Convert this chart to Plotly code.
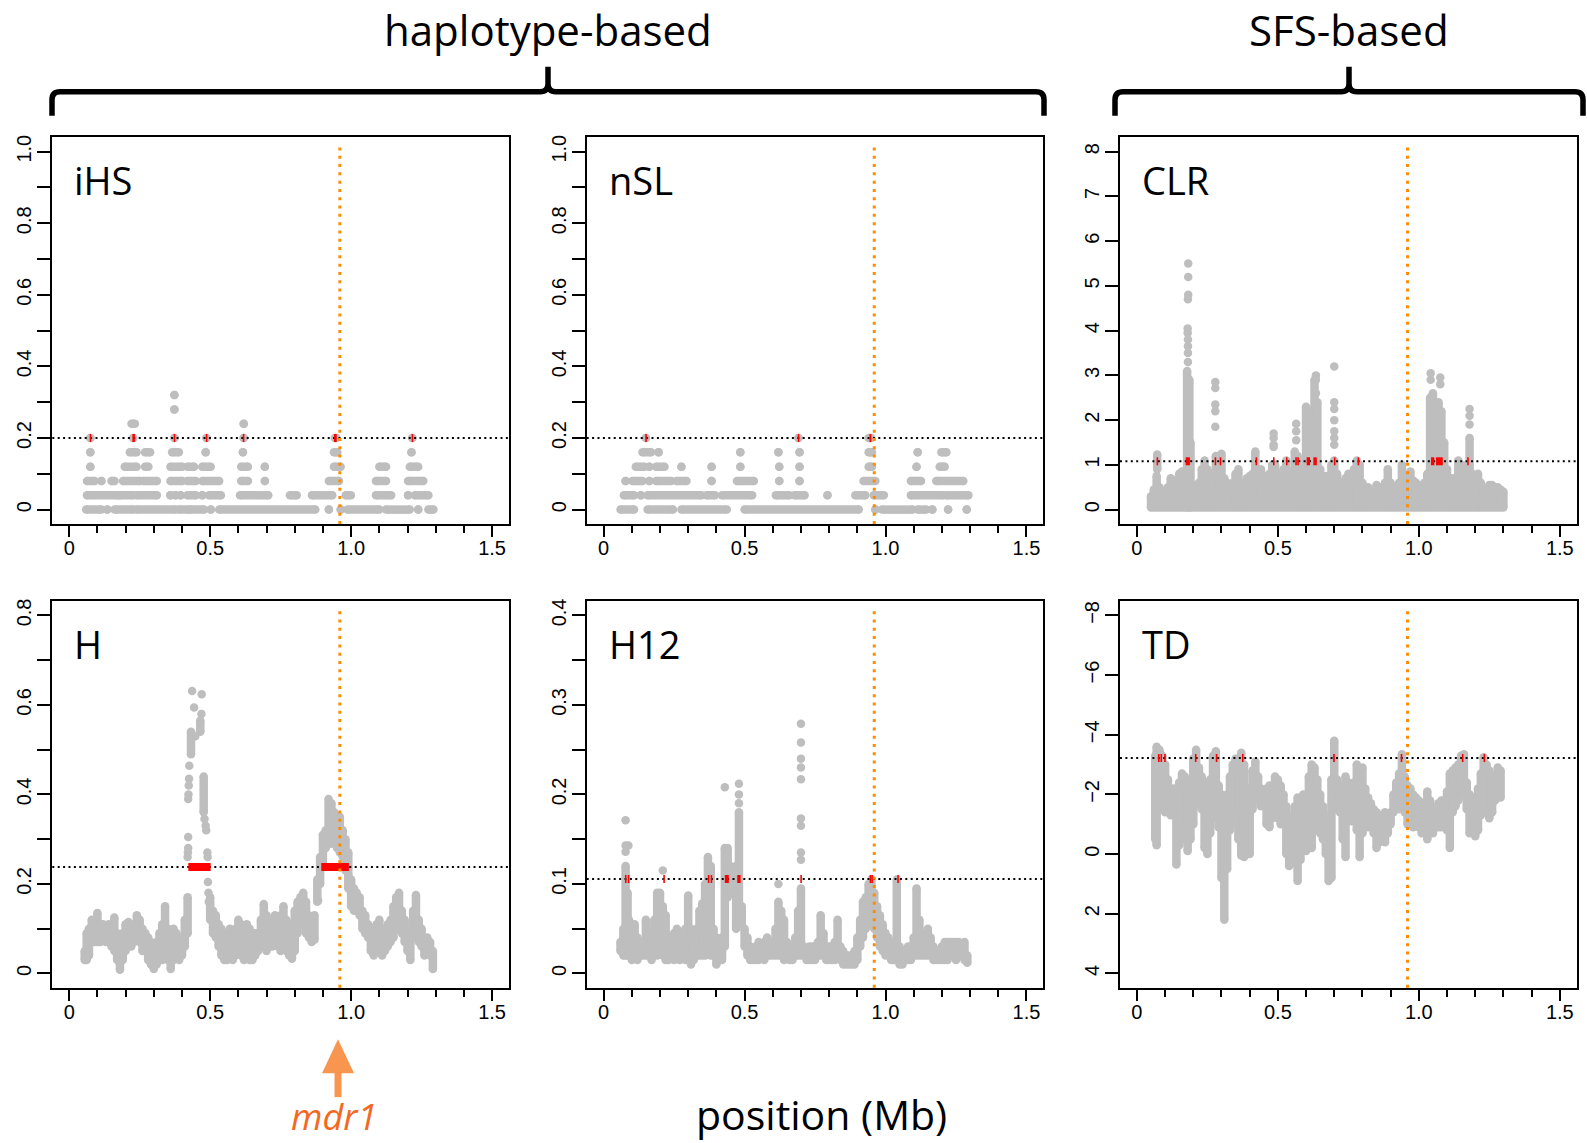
import plotly.graph_objects as go

# ---------------- data ----------------
MDR1_POS = 0.96

# iHS / nSL: discrete score levels -> runs of densely packed windows (x_start, x_end)
IHS_RUNS = {
    0.00: [(0.06, 0.114), (0.135, 0.135), (0.161, 0.227), (0.239, 0.377), (0.389, 0.425), (0.431, 0.478),
           (0.502, 0.502), (0.532, 0.873), (0.921, 0.921), (0.963, 0.963), (0.987, 1.100), (1.124, 1.208),
           (1.238, 1.238), (1.274, 1.292)],
    0.04: [(0.063, 0.173), (0.179, 0.227), (0.239, 0.311), (0.359, 0.359), (0.377, 0.377), (0.395, 0.395),
           (0.419, 0.449), (0.472, 0.472), (0.496, 0.538), (0.606, 0.706), (0.783, 0.807), (0.861, 0.933),
           (0.981, 0.999), (1.088, 1.142), (1.202, 1.202), (1.226, 1.274)],
    0.08: [(0.063, 0.09), (0.114, 0.114), (0.15, 0.161), (0.191, 0.251), (0.263, 0.311), (0.359, 0.401),
           (0.419, 0.449), (0.472, 0.532), (0.61, 0.634), (0.694, 0.694), (0.921, 0.957), (1.088, 1.124),
           (1.202, 1.256)],
    0.12: [(0.075, 0.075), (0.197, 0.239), (0.269, 0.281), (0.359, 0.401), (0.419, 0.443), (0.472, 0.502),
           (0.61, 0.634), (0.694, 0.694), (0.939, 0.963), (1.10, 1.124), (1.208, 1.238)],
    0.16: [(0.075, 0.075), (0.215, 0.239), (0.269, 0.287), (0.365, 0.389), (0.484, 0.484), (0.616, 0.616),
           (0.939, 0.951), (1.214, 1.214)],
    0.20: [(0.075, 0.075), (0.227, 0.227), (0.373, 0.373), (0.487, 0.487), (0.619, 0.619), (0.942, 0.948),
           (1.217, 1.217)],
    0.24: [(0.221, 0.233), (0.619, 0.619)],
    0.28: [(0.373, 0.373)],
    0.32: [(0.373, 0.373)],
}
IHS_THRESHOLD = 0.2
IHS_OUTLIERS = [(0.075, 0.076), (0.224, 0.233), (0.373, 0.374), (0.487, 0.488), (0.617, 0.62),
                (0.939, 0.949), (1.217, 1.218)]

NSL_RUNS = {
    0.00: [(0.06, 0.108), (0.156, 0.246), (0.276, 0.437), (0.50, 0.905), (0.964, 0.964), (0.988, 1.096),
           (1.114, 1.144), (1.166, 1.166), (1.222, 1.222), (1.288, 1.288)],
    0.04: [(0.072, 0.108), (0.132, 0.132), (0.156, 0.347), (0.365, 0.395), (0.42, 0.527), (0.611, 0.659),
           (0.677, 0.713), (0.794, 0.794), (0.893, 0.928), (0.958, 0.994), (1.09, 1.204), (1.216, 1.294)],
    0.08: [(0.078, 0.078), (0.102, 0.138), (0.162, 0.162), (0.186, 0.24), (0.258, 0.294), (0.383, 0.383),
           (0.473, 0.533), (0.623, 0.623), (0.695, 0.695), (0.922, 0.964), (1.09, 1.126), (1.18, 1.276)],
    0.12: [(0.114, 0.144), (0.162, 0.162), (0.186, 0.216), (0.276, 0.276), (0.383, 0.383), (0.485, 0.485),
           (0.623, 0.623), (0.695, 0.695), (0.94, 0.952), (1.11, 1.11), (1.192, 1.21)],
    0.16: [(0.138, 0.168), (0.195, 0.195), (0.485, 0.485), (0.62, 0.62), (0.695, 0.695), (0.94, 0.952),
           (1.114, 1.114), (1.198, 1.216)],
    0.20: [(0.15, 0.15), (0.691, 0.691), (0.94, 0.95)],
}
NSL_THRESHOLD = 0.2
NSL_OUTLIERS = [(0.15, 0.151), (0.691, 0.692), (0.943, 0.95)]

# CLR: windows as (position, lowest value, highest value) plus isolated high points
CLR_COLS = [
    (0.05, 0.05, 0.3), (0.06, 0.05, 0.45), (0.07, 0.05, 0.75), (0.072, 0.9, 1.23), (0.08, 0.05, 0.5),
    (0.09, 0.05, 0.4), (0.10, 0.05, 0.35), (0.11, 0.05, 0.5), (0.12, 0.05, 0.7), (0.13, 0.05, 0.65),
    (0.14, 0.05, 0.55), (0.15, 0.05, 0.8), (0.16, 0.05, 0.85), (0.17, 0.05, 0.8), (0.178, 0.05, 3.1),
    (0.186, 0.05, 2.9), (0.19, 0.05, 1.5), (0.20, 0.05, 0.5), (0.21, 0.05, 0.55), (0.22, 0.05, 0.6),
    (0.23, 0.05, 0.9), (0.24, 0.05, 1.1), (0.25, 0.05, 0.9), (0.26, 0.05, 0.7), (0.27, 0.05, 0.8),
    (0.28, 0.05, 1.2), (0.29, 0.05, 1.0), (0.30, 0.05, 1.25), (0.31, 0.05, 0.7), (0.32, 0.05, 0.6),
    (0.33, 0.05, 0.5), (0.34, 0.05, 0.6), (0.35, 0.05, 0.8), (0.36, 0.05, 0.9), (0.37, 0.05, 0.6),
    (0.38, 0.05, 0.5), (0.39, 0.05, 0.7), (0.40, 0.05, 0.75), (0.41, 0.05, 0.8), (0.42, 0.05, 1.3),
    (0.43, 0.05, 0.7), (0.44, 0.05, 0.9), (0.45, 0.05, 0.65), (0.46, 0.05, 0.75), (0.47, 0.05, 0.8),
    (0.48, 0.05, 1.0), (0.49, 0.05, 1.0), (0.50, 0.05, 0.7), (0.51, 0.05, 0.8), (0.52, 0.05, 0.9),
    (0.53, 0.05, 1.1), (0.54, 0.05, 0.85), (0.55, 0.05, 0.7), (0.56, 0.05, 1.3), (0.57, 0.05, 1.2),
    (0.58, 0.05, 0.8), (0.59, 0.05, 0.9), (0.60, 0.05, 2.3), (0.61, 0.05, 2.2), (0.62, 0.05, 1.7),
    (0.63, 0.05, 2.9), (0.64, 0.05, 2.4), (0.65, 0.05, 0.9), (0.66, 0.05, 0.7), (0.67, 0.05, 0.75),
    (0.68, 0.05, 0.7), (0.69, 0.05, 1.0), (0.70, 0.05, 1.1), (0.71, 0.05, 0.8), (0.72, 0.05, 0.6),
    (0.73, 0.05, 0.55), (0.74, 0.05, 0.7), (0.75, 0.05, 0.8), (0.76, 0.05, 0.6), (0.77, 0.05, 0.9),
    (0.78, 0.05, 1.1), (0.79, 0.05, 1.0), (0.80, 0.05, 0.6), (0.81, 0.05, 0.45), (0.82, 0.05, 0.5),
    (0.83, 0.05, 0.4), (0.84, 0.05, 0.35), (0.85, 0.05, 0.55), (0.86, 0.05, 0.45), (0.87, 0.05, 0.5),
    (0.88, 0.05, 0.6), (0.89, 0.05, 0.9), (0.90, 0.05, 0.6), (0.91, 0.05, 0.5), (0.92, 0.05, 0.45),
    (0.93, 0.05, 0.6), (0.94, 0.05, 1.0), (0.95, 0.05, 0.75), (0.96, 0.05, 0.7), (0.97, 0.05, 0.85),
    (0.98, 0.05, 0.65), (0.99, 0.05, 0.6), (1.00, 0.05, 0.55), (1.01, 0.05, 0.5), (1.02, 0.05, 0.6),
    (1.03, 0.05, 0.8), (1.04, 0.05, 2.5), (1.05, 0.05, 2.6), (1.06, 0.05, 1.8), (1.07, 0.05, 2.4),
    (1.08, 0.05, 2.2), (1.09, 0.05, 1.5), (1.10, 0.05, 0.9), (1.11, 0.05, 0.7), (1.12, 0.05, 0.7),
    (1.13, 0.05, 0.65), (1.14, 0.05, 1.1), (1.15, 0.05, 1.0), (1.16, 0.05, 0.6), (1.17, 0.05, 1.0),
    (1.18, 0.05, 1.6), (1.19, 0.05, 0.8), (1.20, 0.05, 0.7), (1.21, 0.05, 0.8), (1.22, 0.05, 0.6),
    (1.23, 0.05, 0.45), (1.24, 0.05, 0.4), (1.25, 0.05, 0.55), (1.26, 0.05, 0.55), (1.27, 0.05, 0.5),
    (1.28, 0.05, 0.5), (1.29, 0.05, 0.45), (1.30, 0.05, 0.4),
]
CLR_POINTS = [
    (0.181, 3.3), (0.181, 3.5), (0.181, 3.65), (0.181, 3.8), (0.18, 3.95), (0.18, 4.05), (0.181, 4.7),
    (0.182, 4.8), (0.182, 5.2), (0.182, 5.5), (0.278, 1.85), (0.278, 2.2), (0.278, 2.35), (0.278, 2.72),
    (0.278, 2.85), (0.485, 1.4), (0.485, 1.45), (0.485, 1.6), (0.485, 1.7), (0.565, 1.55), (0.565, 1.75),
    (0.565, 1.92), (0.635, 2.6), (0.635, 2.9), (0.635, 3.0), (0.70, 1.45), (0.70, 1.6), (0.70, 1.75),
    (0.70, 2.0), (0.70, 2.25), (0.70, 2.4), (0.70, 3.2), (1.042, 2.9), (1.042, 3.05), (1.076, 2.8),
    (1.076, 2.95), (1.18, 1.9), (1.18, 2.1), (1.18, 2.25), (0.605, 1.9), (0.61, 2.1),
]
CLR_THRESHOLD = 1.08
CLR_OUTLIERS = [(0.072, 0.073), (0.173, 0.188), (0.278, 0.279), (0.296, 0.297), (0.423, 0.424),
                (0.485, 0.486), (0.531, 0.532), (0.564, 0.565), (0.571, 0.572), (0.602, 0.614),
                (0.626, 0.638), (0.701, 0.702), (0.785, 0.786), (1.043, 1.055), (1.061, 1.085),
                (1.174, 1.175)]

# H
H_COLS = [
    (0.055, 0.03, 0.05), (0.062, 0.03, 0.09), (0.07, 0.04, 0.10), (0.08, 0.07, 0.12), (0.09, 0.07, 0.12),
    (0.10, 0.07, 0.135), (0.11, 0.07, 0.11), (0.12, 0.075, 0.11), (0.13, 0.07, 0.10), (0.14, 0.075, 0.11),
    (0.15, 0.06, 0.10), (0.16, 0.05, 0.125), (0.17, 0.03, 0.09), (0.18, 0.008, 0.08), (0.19, 0.03, 0.09),
    (0.20, 0.05, 0.11), (0.21, 0.06, 0.115), (0.22, 0.06, 0.10), (0.23, 0.07, 0.11), (0.24, 0.08, 0.13),
    (0.25, 0.07, 0.12), (0.26, 0.05, 0.10), (0.27, 0.05, 0.09), (0.28, 0.03, 0.08), (0.29, 0.02, 0.07),
    (0.30, 0.01, 0.05), (0.31, 0.02, 0.07), (0.32, 0.04, 0.09), (0.33, 0.03, 0.11), (0.34, 0.05, 0.15),
    (0.35, 0.03, 0.10), (0.36, 0.01, 0.09), (0.37, 0.03, 0.10), (0.38, 0.04, 0.09), (0.39, 0.03, 0.06),
    (0.40, 0.04, 0.08), (0.41, 0.06, 0.12), (0.42, 0.09, 0.17), (0.432, 0.49, 0.54), (0.465, 0.54, 0.565),
    (0.477, 0.36, 0.44), (0.50, 0.12, 0.17), (0.51, 0.09, 0.14), (0.52, 0.08, 0.13), (0.53, 0.06, 0.11),
    (0.54, 0.04, 0.10), (0.55, 0.03, 0.09), (0.56, 0.03, 0.08), (0.57, 0.04, 0.10), (0.58, 0.03, 0.09),
    (0.59, 0.04, 0.10), (0.60, 0.05, 0.12), (0.61, 0.04, 0.11), (0.62, 0.03, 0.10), (0.63, 0.04, 0.11),
    (0.64, 0.03, 0.10), (0.65, 0.03, 0.09), (0.66, 0.04, 0.09), (0.67, 0.05, 0.09), (0.68, 0.06, 0.12),
    (0.69, 0.06, 0.155), (0.70, 0.05, 0.13), (0.71, 0.06, 0.11), (0.72, 0.06, 0.12), (0.73, 0.07, 0.13),
    (0.74, 0.06, 0.12), (0.75, 0.05, 0.13), (0.76, 0.06, 0.15), (0.77, 0.05, 0.12), (0.78, 0.04, 0.11),
    (0.79, 0.033, 0.10), (0.80, 0.05, 0.14), (0.81, 0.09, 0.16), (0.82, 0.11, 0.17), (0.83, 0.11, 0.18),
    (0.84, 0.09, 0.16), (0.85, 0.08, 0.13), (0.86, 0.07, 0.12), (0.87, 0.075, 0.13), (0.88, 0.16, 0.21),
    (0.89, 0.20, 0.26), (0.90, 0.24, 0.31), (0.91, 0.28, 0.32), (0.92, 0.30, 0.39), (0.93, 0.29, 0.38),
    (0.94, 0.30, 0.36), (0.95, 0.28, 0.33), (0.96, 0.27, 0.35), (0.97, 0.26, 0.32), (0.98, 0.23, 0.30),
    (0.99, 0.19, 0.27), (1.00, 0.15, 0.21), (1.01, 0.14, 0.19), (1.02, 0.14, 0.18), (1.03, 0.13, 0.17),
    (1.04, 0.10, 0.14), (1.05, 0.09, 0.13), (1.06, 0.08, 0.11), (1.07, 0.05, 0.10), (1.08, 0.04, 0.09),
    (1.09, 0.05, 0.11), (1.10, 0.06, 0.12), (1.11, 0.04, 0.10), (1.12, 0.05, 0.09), (1.13, 0.06, 0.11),
    (1.14, 0.07, 0.12), (1.15, 0.08, 0.15), (1.16, 0.10, 0.17), (1.17, 0.11, 0.18), (1.18, 0.09, 0.14),
    (1.19, 0.07, 0.12), (1.20, 0.05, 0.10), (1.21, 0.03, 0.08), (1.22, 0.08, 0.14), (1.23, 0.10, 0.175),
    (1.24, 0.07, 0.12), (1.25, 0.06, 0.10), (1.26, 0.04, 0.08), (1.27, 0.05, 0.08), (1.28, 0.04, 0.07),
    (1.29, 0.01, 0.05),
]
H_POINTS = [
    (0.420, 0.26), (0.421, 0.27), (0.422, 0.28), (0.422, 0.305), (0.422, 0.39), (0.423, 0.40),
    (0.424, 0.42), (0.425, 0.435), (0.426, 0.464), (0.436, 0.631), (0.443, 0.594), (0.447, 0.53),
    (0.469, 0.58), (0.47, 0.624), (0.48, 0.345), (0.484, 0.33), (0.486, 0.32), (0.49, 0.27), (0.491, 0.26),
    (0.492, 0.204), (0.494, 0.18), (0.495, 0.16), (0.883, 0.163),
]
H_THRESHOLD = 0.238
H_OUTLIERS = [(0.4225, 0.5016), (0.894, 0.992)]

# H12
H12_COLS = [
    (0.06, 0.025, 0.035), (0.07, 0.02, 0.05), (0.078, 0.02, 0.12), (0.085, 0.02, 0.09), (0.09, 0.02, 0.06),
    (0.10, 0.015, 0.04), (0.11, 0.02, 0.055), (0.12, 0.015, 0.04), (0.13, 0.02, 0.035), (0.14, 0.02, 0.035),
    (0.15, 0.02, 0.06), (0.16, 0.02, 0.045), (0.17, 0.015, 0.04), (0.18, 0.02, 0.06), (0.19, 0.02, 0.09),
    (0.20, 0.03, 0.09), (0.21, 0.02, 0.075), (0.22, 0.015, 0.065), (0.23, 0.015, 0.04), (0.24, 0.02, 0.04),
    (0.25, 0.015, 0.045), (0.26, 0.02, 0.05), (0.27, 0.015, 0.04), (0.28, 0.02, 0.045), (0.29, 0.015, 0.05),
    (0.30, 0.02, 0.087), (0.31, 0.01, 0.05), (0.32, 0.015, 0.04), (0.33, 0.02, 0.05), (0.34, 0.02, 0.07),
    (0.35, 0.02, 0.078), (0.36, 0.02, 0.10), (0.37, 0.03, 0.13), (0.38, 0.02, 0.12), (0.39, 0.02, 0.05),
    (0.40, 0.01, 0.04), (0.41, 0.015, 0.035), (0.42, 0.015, 0.04), (0.43, 0.03, 0.14), (0.44, 0.085, 0.14),
    (0.45, 0.09, 0.12), (0.46, 0.09, 0.10), (0.47, 0.05, 0.12), (0.48, 0.06, 0.18), (0.49, 0.055, 0.075),
    (0.50, 0.03, 0.05), (0.51, 0.02, 0.04), (0.52, 0.015, 0.03), (0.53, 0.015, 0.025), (0.54, 0.015, 0.03),
    (0.55, 0.015, 0.035), (0.56, 0.02, 0.03), (0.57, 0.015, 0.035), (0.58, 0.02, 0.04), (0.59, 0.02, 0.03),
    (0.60, 0.02, 0.035), (0.61, 0.02, 0.05), (0.62, 0.02, 0.08), (0.63, 0.02, 0.07), (0.64, 0.015, 0.06),
    (0.65, 0.02, 0.035), (0.66, 0.015, 0.03), (0.67, 0.015, 0.025), (0.68, 0.02, 0.04), (0.69, 0.02, 0.07),
    (0.70, 0.02, 0.095), (0.71, 0.02, 0.03), (0.72, 0.015, 0.025), (0.73, 0.015, 0.03), (0.74, 0.015, 0.03),
    (0.75, 0.015, 0.03), (0.76, 0.02, 0.035), (0.77, 0.02, 0.065), (0.78, 0.02, 0.045), (0.79, 0.015, 0.03),
    (0.80, 0.015, 0.03), (0.81, 0.015, 0.03), (0.82, 0.015, 0.035), (0.83, 0.02, 0.06), (0.84, 0.015, 0.03),
    (0.85, 0.01, 0.025), (0.86, 0.01, 0.02), (0.87, 0.01, 0.02), (0.88, 0.01, 0.02), (0.89, 0.01, 0.025),
    (0.90, 0.015, 0.04), (0.91, 0.03, 0.06), (0.92, 0.04, 0.08), (0.93, 0.05, 0.085), (0.94, 0.06, 0.10),
    (0.95, 0.065, 0.105), (0.96, 0.05, 0.09), (0.97, 0.04, 0.075), (0.98, 0.03, 0.065), (0.99, 0.025, 0.055),
    (1.00, 0.02, 0.045), (1.01, 0.02, 0.04), (1.02, 0.015, 0.035), (1.03, 0.015, 0.03), (1.04, 0.02, 0.105),
    (1.05, 0.01, 0.03), (1.06, 0.01, 0.025), (1.07, 0.015, 0.025), (1.08, 0.015, 0.03), (1.09, 0.015, 0.03),
    (1.10, 0.02, 0.04), (1.11, 0.02, 0.095), (1.12, 0.02, 0.06), (1.13, 0.02, 0.04), (1.14, 0.02, 0.045),
    (1.15, 0.02, 0.05), (1.16, 0.02, 0.04), (1.17, 0.015, 0.03), (1.18, 0.015, 0.025), (1.19, 0.015, 0.025),
    (1.20, 0.015, 0.03), (1.21, 0.015, 0.035), (1.22, 0.015, 0.035), (1.23, 0.02, 0.035), (1.24, 0.02, 0.035),
    (1.25, 0.015, 0.035), (1.26, 0.02, 0.035), (1.27, 0.02, 0.03), (1.28, 0.015, 0.035), (1.29, 0.012, 0.02),
]
H12_POINTS = [
    (0.078, 0.136), (0.078, 0.143), (0.078, 0.171), (0.088, 0.143), (0.21, 0.115), (0.43, 0.208),
    (0.48, 0.19), (0.48, 0.20), (0.48, 0.212), (0.70, 0.127), (0.70, 0.135), (0.70, 0.165), (0.70, 0.173),
    (0.70, 0.217), (0.70, 0.23), (0.70, 0.24), (0.70, 0.258), (0.70, 0.279), (0.62, 0.10),
]
H12_THRESHOLD = 0.1055
H12_OUTLIERS = [(0.078, 0.079), (0.088, 0.089), (0.214, 0.215), (0.372, 0.373), (0.382, 0.383),
                (0.43, 0.444), (0.474, 0.486), (0.70, 0.701), (0.946, 0.947), (0.952, 0.953), (1.044, 1.045)]

# Tajima's D (plotted on a reversed axis)
TD_COLS = [
    (0.065, -3.3, -0.5), (0.07, -3.6, -0.3), (0.08, -3.5, -1.5), (0.09, -3.3, -1.6), (0.10, -3.0, -1.4),
    (0.11, -2.5, -1.4), (0.12, -2.0, -1.3), (0.13, -2.2, -1.4), (0.14, -2.0, 0.35), (0.15, -2.4, -0.3),
    (0.16, -2.7, -0.5), (0.17, -2.6, -0.8), (0.18, -2.3, -0.1), (0.19, -2.5, -0.5), (0.20, -3.2, -1.0),
    (0.21, -3.5, -1.9), (0.22, -2.9, -1.7), (0.23, -2.6, -1.5), (0.24, -1.5, -0.2), (0.25, -1.2, 0.0),
    (0.26, -2.5, -0.7), (0.27, -3.3, -1.2), (0.28, -3.45, -1.4), (0.29, -2.3, -0.9), (0.30, -2.0, 0.8),
    (0.31, -1.7, 2.2), (0.32, -2.0, 0.5), (0.33, -2.6, -0.8), (0.34, -3.0, -1.0), (0.35, -3.2, -1.3),
    (0.36, -3.1, -0.5), (0.37, -3.4, 0.05), (0.38, -3.0, 0.1), (0.39, -2.2, -0.3), (0.40, -1.6, 0.0),
    (0.41, -2.8, -1.5), (0.42, -3.1, -2.0), (0.43, -2.6, -1.8), (0.44, -2.2, -1.6), (0.45, -2.0, -1.6),
    (0.46, -2.2, -1.0), (0.47, -2.3, -0.9), (0.48, -2.2, -1.2), (0.49, -2.6, -1.5), (0.50, -2.5, -1.2),
    (0.51, -2.3, -1.0), (0.52, -2.0, -1.2), (0.53, -1.6, 0.0), (0.54, -1.2, 0.4), (0.55, -1.3, 0.0),
    (0.56, -1.6, 0.3), (0.57, -1.9, 0.9), (0.58, -1.8, 0.2), (0.59, -2.0, -0.3), (0.60, -1.8, -0.1),
    (0.61, -2.6, -0.5), (0.62, -3.0, -0.2), (0.63, -2.9, -0.8), (0.64, -2.5, -1.0), (0.65, -2.0, -0.7),
    (0.66, -1.6, -0.5), (0.67, -1.3, 0.0), (0.68, -1.3, 0.9), (0.69, -2.5, 0.8), (0.70, -3.8, -1.6),
    (0.71, -2.5, -1.5), (0.72, -2.3, -1.4), (0.73, -2.2, -0.5), (0.74, -2.6, 0.1), (0.75, -2.4, -1.2),
    (0.76, -2.2, -1.1), (0.77, -2.4, -1.3), (0.78, -3.0, -0.8), (0.79, -2.8, 0.1), (0.80, -2.9, -0.7),
    (0.81, -2.2, -1.2), (0.82, -1.9, -0.9), (0.83, -1.7, -0.9), (0.84, -1.5, -0.7), (0.85, -1.4, -0.2),
    (0.86, -1.3, -0.4), (0.87, -1.2, -0.6), (0.88, -1.4, -0.4), (0.89, -1.2, -0.7), (0.90, -1.4, -1.0),
    (0.91, -2.0, -1.4), (0.92, -2.4, -1.6), (0.93, -2.7, -1.5), (0.94, -3.35, -1.9), (0.95, -2.6, -1.4),
    (0.96, -2.3, -1.0), (0.97, -2.2, -1.0), (0.98, -2.0, -0.9), (0.99, -1.9, -1.1), (1.00, -1.8, -0.9),
    (1.01, -1.7, -0.7), (1.02, -1.6, -0.9), (1.03, -2.1, -0.5), (1.04, -1.8, -0.7), (1.05, -1.5, -0.7),
    (1.06, -1.4, -0.9), (1.07, -1.7, -0.9), (1.08, -1.8, -0.9), (1.09, -1.8, -1.0), (1.10, -2.1, -0.8),
    (1.11, -2.7, -0.2), (1.12, -2.8, -1.4), (1.13, -2.9, -1.6), (1.14, -3.0, -1.8), (1.15, -3.3, -2.0),
    (1.16, -3.35, -2.0), (1.17, -2.4, -1.5), (1.18, -2.0, -0.7), (1.19, -1.9, -0.8), (1.20, -1.8, -0.6),
    (1.21, -2.2, -0.8), (1.22, -2.7, -1.3), (1.23, -3.25, -1.8), (1.24, -3.0, -1.4), (1.25, -2.8, -1.2),
    (1.26, -2.5, -1.4), (1.27, -2.6, -1.8), (1.28, -2.9, -1.9), (1.29, -2.8, -1.9),
]
TD_THRESHOLD = -3.22
TD_OUTLIERS = [(0.077, 0.078), (0.086, 0.087), (0.099, 0.1), (0.208, 0.209), (0.282, 0.283),
               (0.375, 0.376), (0.696, 0.702), (0.938, 0.939), (1.155, 1.156), (1.232, 1.233)]

X_TICKVALS = [0, 0.5, 1.0, 1.5]
X_TICKTEXT = ["0", "0.5", "1.0", "1.5"]

# ---------------- styling / layout ----------------
W, H = 1587, 1143
GREY = "#BEBEBE"
DOT = 8.5
COLS_PX = [(52.3, 509.0), (586.7, 1043.4), (1120.0, 1576.7)]
ROWS_PX = [(134.7, 522.3), (599.7, 987.3)]
BOX_H = 387.6


def px(x):
    return x / W


def py(y):
    return 1 - y / H


PANELS = [
    dict(name="iHS", col=0, row=0, rng=[-0.04, 1.04], tv=[0, 0.2, 0.4, 0.6, 0.8, 1.0],
         tt=["0", "0.2", "0.4", "0.6", "0.8", "1.0"], minor=0.1, thr=IHS_THRESHOLD, red=IHS_OUTLIERS),
    dict(name="nSL", col=1, row=0, rng=[-0.04, 1.04], tv=[0, 0.2, 0.4, 0.6, 0.8, 1.0],
         tt=["0", "0.2", "0.4", "0.6", "0.8", "1.0"], minor=0.1, thr=NSL_THRESHOLD, red=NSL_OUTLIERS),
    dict(name="CLR", col=2, row=0, rng=[-0.32, 8.32], tv=list(range(0, 9)),
         tt=[str(v) for v in range(0, 9)], minor=None, thr=CLR_THRESHOLD, red=CLR_OUTLIERS),
    dict(name="H", col=0, row=1, rng=[-0.032, 0.832], tv=[0, 0.2, 0.4, 0.6, 0.8],
         tt=["0", "0.2", "0.4", "0.6", "0.8"], minor=0.1, thr=H_THRESHOLD, red=H_OUTLIERS),
    dict(name="H12", col=1, row=1, rng=[-0.016, 0.416], tv=[0, 0.1, 0.2, 0.3, 0.4],
         tt=["0", "0.1", "0.2", "0.3", "0.4"], minor=0.05, thr=H12_THRESHOLD, red=H12_OUTLIERS),
    dict(name="TD", col=2, row=1, rng=[4.48, -8.48], tv=[-8, -6, -4, -2, 0, 2, 4],
         tt=["\u22128", "\u22126", "\u22124", "\u22122", "0", "2", "4"], minor=None, thr=TD_THRESHOLD,
         red=TD_OUTLIERS),
]

fig = go.Figure()


def add_runs(runs_by_level, i):
    xs, ys = [], []
    for lvl, runs in runs_by_level.items():
        for a, b in runs:
            xs += [a, b, None]
            ys += [lvl, lvl, None]
    fig.add_trace(go.Scatter(x=xs, y=ys, mode="lines+markers", xaxis=f"x{i}", yaxis=f"y{i}",
                             line=dict(color=GREY, width=DOT), marker=dict(color=GREY, size=DOT),
                             hoverinfo="skip", showlegend=False))


def add_cols(cols, points, i):
    xs, ys = [], []
    for x, lo, hi in cols:
        xs += [x, x, None]
        ys += [lo, hi, None]
    fig.add_trace(go.Scatter(x=xs, y=ys, mode="lines+markers", xaxis=f"x{i}", yaxis=f"y{i}",
                             line=dict(color=GREY, width=DOT), marker=dict(color=GREY, size=DOT),
                             hoverinfo="skip", showlegend=False))
    if points:
        fig.add_trace(go.Scatter(x=[p[0] for p in points], y=[p[1] for p in points], mode="markers",
                                 xaxis=f"x{i}", yaxis=f"y{i}", marker=dict(color=GREY, size=DOT),
                                 hoverinfo="skip", showlegend=False))


add_runs(IHS_RUNS, 1)
add_runs(NSL_RUNS, 2)
add_cols(CLR_COLS, CLR_POINTS, 3)
add_cols(H_COLS, H_POINTS, 4)
add_cols(H12_COLS, H12_POINTS, 5)
add_cols(TD_COLS, [], 6)

layout = dict(width=W, height=H, margin=dict(l=0, r=0, t=0, b=0), autosize=False,
              paper_bgcolor="white", plot_bgcolor="white", showlegend=False)
shapes = []
annotations = []
TICKFONT = dict(family="Liberation Sans, Arial, sans-serif", size=20, color="black")
LABFONT = "Open Sans, Lato, sans-serif"

for k, p in enumerate(PANELS):
    i = k + 1
    sfx = "" if i == 1 else str(i)
    x0p, x1p = COLS_PX[p["col"]]
    y0p, y1p = ROWS_PX[p["row"]]
    xa = dict(domain=[px(x0p), px(x1p)], range=[-0.06, 1.56], anchor=f"y{sfx}",
              showline=True, mirror=True, linecolor="black", linewidth=2,
              showgrid=False, zeroline=False, ticks="outside", ticklen=11, tickwidth=2, tickcolor="black",
              tickmode="array", tickvals=X_TICKVALS, ticktext=X_TICKTEXT, tickfont=TICKFONT,
              ticklabelstandoff=-6,
              minor=dict(tickmode="linear", tick0=0, dtick=0.1, ticks="outside", ticklen=7, tickwidth=2,
                         tickcolor="black", showgrid=False),
              fixedrange=True)
    ya = dict(domain=[py(y1p), py(y0p)], range=p["rng"], anchor=f"x{sfx}",
              showline=True, mirror=True, linecolor="black", linewidth=2,
              showgrid=False, zeroline=False, ticks="outside", ticklen=13, tickwidth=2, tickcolor="black",
              tickmode="array", tickvals=p["tv"], ticktext=p["tt"], tickfont=TICKFONT, tickangle=-90,
              ticklabelstandoff=-2, fixedrange=True)
    if p["minor"]:
        ya["minor"] = dict(tickmode="linear", tick0=0, dtick=p["minor"], ticks="outside", ticklen=13,
                           tickwidth=2, tickcolor="black", showgrid=False)
    layout[f"xaxis{sfx}"] = xa
    layout[f"yaxis{sfx}"] = ya

    span = abs(p["rng"][1] - p["rng"][0])
    hh = 4.0 * span / BOX_H
    min_w = 1.6 * 1.62 / (x1p - x0p)
    # threshold line
    shapes.append(dict(type="line", xref=f"x{sfx} domain" if sfx else "x domain", x0=0, x1=1,
                       yref=f"y{sfx}", y0=p["thr"], y1=p["thr"],
                       line=dict(color="black", width=2, dash="2px,3.4px"), layer="above"))
    # red outlier windows
    for a, b in p["red"]:
        if b - a < min_w:
            c = (a + b) / 2
            a, b = c - min_w / 2, c + min_w / 2
        shapes.append(dict(type="rect", xref=f"x{sfx}", yref=f"y{sfx}", x0=a, x1=b,
                           y0=p["thr"] - hh, y1=p["thr"] + hh, fillcolor="#FF0000",
                           line=dict(width=0), layer="above"))
    # mdr1 position
    shapes.append(dict(type="line", xref=f"x{sfx}", x0=MDR1_POS, x1=MDR1_POS,
                       yref=f"y{sfx} domain" if sfx else "y domain", y0=0, y1=0.985,
                       line=dict(color="#FF8C00", width=3, dash="3px,5.3px"), layer="above"))
    # panel label
    annotations.append(dict(text=p["name"], xref="paper", yref="paper", x=px(x0p + 20), y=py(y0p + 43),
                            xanchor="left", yanchor="middle", showarrow=False,
                            font=dict(family=LABFONT, size=38, color="black")))

# braces
def brace(xl, xr, xt, ybar=89, yend=113, ytip=64, r=8):
    return (f"M {px(xl)} {py(yend)} L {px(xl)} {py(ybar + r)} Q {px(xl)} {py(ybar)} {px(xl + r)} {py(ybar)} "
            f"L {px(xt - r)} {py(ybar)} Q {px(xt)} {py(ybar)} {px(xt)} {py(ybar - r)} L {px(xt)} {py(ytip)} "
            f"M {px(xt)} {py(ybar - r)} Q {px(xt)} {py(ybar)} {px(xt + r)} {py(ybar)} "
            f"L {px(xr - r)} {py(ybar)} Q {px(xr)} {py(ybar)} {px(xr)} {py(ybar + r)} L {px(xr)} {py(yend)}")


shapes.append(dict(type="path", xref="paper", yref="paper", path=brace(52, 1044, 548),
                   line=dict(color="black", width=5.5)))
shapes.append(dict(type="path", xref="paper", yref="paper", path=brace(1115, 1583, 1349),
                   line=dict(color="black", width=5.5)))

# mdr1 arrow
ax = 338
shapes.append(dict(type="path", xref="paper", yref="paper",
                   path=f"M {px(ax - 16)} {py(1073)} L {px(ax + 16)} {py(1073)} L {px(ax)} {py(1039)} Z",
                   fillcolor="#F8964F", line=dict(width=0)))
shapes.append(dict(type="rect", xref="paper", yref="paper", x0=px(ax - 3.5), x1=px(ax + 3.5),
                   y0=py(1097), y1=py(1071), fillcolor="#F8964F", line=dict(width=0)))

annotations += [
    dict(text="haplotype-based", xref="paper", yref="paper", x=px(548), y=py(27), xanchor="center",
         yanchor="middle", showarrow=False, font=dict(family=LABFONT, size=42, color="black")),
    dict(text="SFS-based", xref="paper", yref="paper", x=px(1349), y=py(27), xanchor="center",
         yanchor="middle", showarrow=False, font=dict(family=LABFONT, size=42, color="black")),
    dict(text="position (Mb)", xref="paper", yref="paper", x=px(821), y=py(1114), xanchor="center",
         yanchor="middle", showarrow=False, font=dict(family=LABFONT, size=41, color="black")),
    dict(text="<i>mdr1</i>", xref="paper", yref="paper", x=px(334), y=py(1143), xanchor="center",
         yanchor="bottom", showarrow=False, font=dict(family=LABFONT, size=36, color="#F4691F")),
]

layout["shapes"] = shapes
layout["annotations"] = annotations
fig.update_layout(**layout)
fig.write_html("out.html")
